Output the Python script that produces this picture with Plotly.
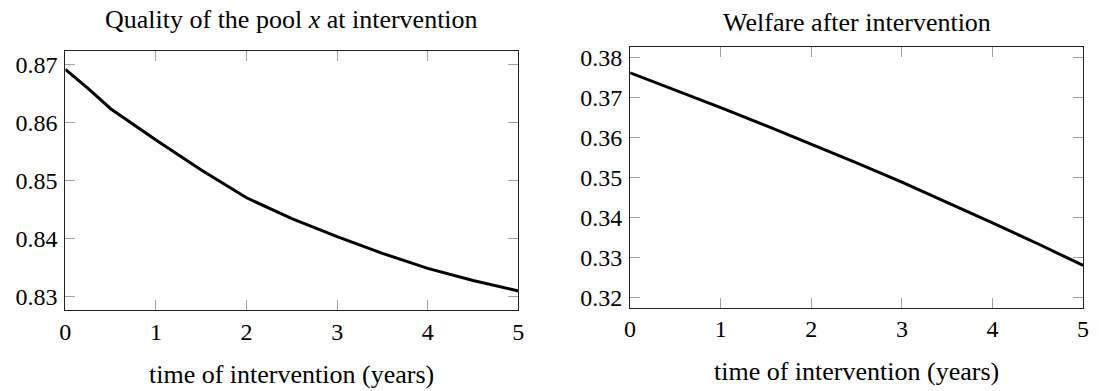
import plotly.graph_objects as go

# ---- data ----
t_years = [0, 0.25, 0.5, 1.0, 1.5, 2.0, 2.5, 3.0, 3.5, 4.0, 4.5, 5.0]
pool_quality = [0.8692, 0.8659, 0.8624, 0.8570, 0.8518, 0.8470, 0.8434, 0.8403, 0.8374, 0.8348, 0.8327, 0.8309]

t_years_w = [0, 0.5, 1.0, 1.5, 2.0, 2.5, 3.0, 3.5, 4.0, 4.5, 5.0]
welfare = [0.3761, 0.3718, 0.3674, 0.3629, 0.3583, 0.3536, 0.3488, 0.3438, 0.3386, 0.3334, 0.3280]

x_ticks = [0, 1, 2, 3, 4, 5]
y_ticks_left = [0.83, 0.84, 0.85, 0.86, 0.87]
y_ticks_right = [0.32, 0.33, 0.34, 0.35, 0.36, 0.37, 0.38]

title_left = "Quality of the pool <i>x</i> at intervention"
title_right = "Welfare after intervention"
x_title = "time of intervention (years)"

W, H = 1099, 391
FONT = "Liberation Serif"
FS = 24
FS_T = 26

fig = go.Figure()
fig.add_trace(go.Scatter(x=t_years, y=pool_quality, mode="lines",
                         line=dict(color="black", width=3), xaxis="x", yaxis="y",
                         showlegend=False))
fig.add_trace(go.Scatter(x=t_years_w, y=welfare, mode="lines",
                         line=dict(color="black", width=3), xaxis="x2", yaxis="y2",
                         showlegend=False))

def px_x(p):
    return p / W

def px_y(p):
    return 1 - p / H

common_axis = dict(showgrid=False, zeroline=False, showline=True, linecolor="#222",
                   linewidth=1, mirror="allticks", ticks="inside", ticklen=10,
                   tickwidth=1, tickcolor="#a0a0a0",
                   tickfont=dict(family=FONT, size=FS, color="black"))

L_x0, L_x1 = 60.0, 518.0
L_y0, L_y1 = 48.3, 311.7
R_x0, R_x1 = 631.0, 1089.0
R_y0, R_y1 = 45.0, 309.3

fig.update_layout(
    width=W, height=H, margin=dict(l=0, r=0, t=0, b=0),
    paper_bgcolor="white", plot_bgcolor="white",
    xaxis=dict(domain=[px_x(L_x0), px_x(L_x1)], range=[0, 5], tickvals=x_ticks,
               anchor="y", ticklabelstandoff=0, **common_axis),
    yaxis=dict(domain=[px_y(L_y1), px_y(L_y0)], range=[0.82762, 0.87245],
               tickvals=y_ticks_left, ticktext=[f"{v:.2f}" for v in y_ticks_left],
               anchor="x", ticklabelstandoff=2, **common_axis),
    xaxis2=dict(domain=[px_x(R_x0), px_x(R_x1)], range=[0, 5], tickvals=x_ticks,
                anchor="y2", ticklabelstandoff=0, **common_axis),
    yaxis2=dict(domain=[px_y(R_y1), px_y(R_y0)], range=[0.31747, 0.38246],
                tickvals=y_ticks_right, ticktext=[f"{v:.2f}" for v in y_ticks_right],
                anchor="x2", ticklabelstandoff=2, **common_axis),
)

def add_text(text, xp, yp, anchor="middle"):
    fig.add_annotation(text=text, x=px_x(xp), y=px_y(yp), xref="paper", yref="paper",
                       xanchor="center", yanchor=anchor, showarrow=False,
                       font=dict(family=FONT, size=FS_T, color="black"))

add_text(title_left, (L_x0 + L_x1) / 2, 0, "top")
add_text(title_right, (R_x0 + R_x1) / 2, 3, "top")
add_text(x_title, (L_x0 + L_x1) / 2, 377)
add_text(x_title, (R_x0 + R_x1) / 2, 374)

fig.write_html("out.html", config={"displayModeBar": False},
               post_script="document.body.style.margin='0';document.body.style.overflow='hidden';")
